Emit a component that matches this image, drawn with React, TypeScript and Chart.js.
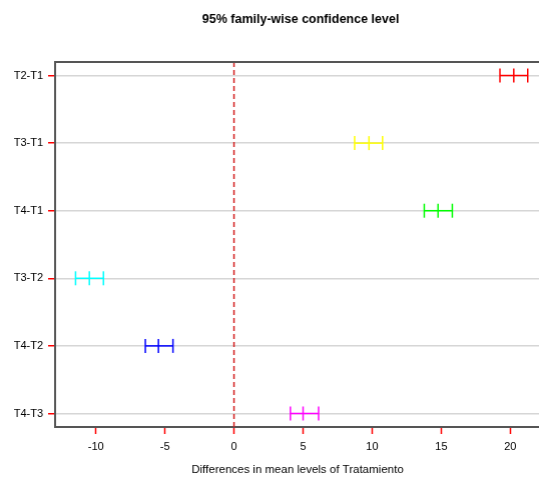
import { useEffect, useRef } from "react";
import { Chart, registerables } from "chart.js";

Chart.register(...registerables);

const comparisons = ["T2-T1", "T3-T1", "T4-T1", "T3-T2", "T4-T2", "T4-T3"];
const diffs = [20.25, 9.77, 14.77, -10.47, -5.47, 5.0];
const lowers = [19.25, 8.73, 13.77, -11.47, -6.42, 4.08];
const uppers = [21.26, 10.75, 15.8, -9.45, -4.42, 6.12];
const colors = ["#FF0000", "#FFFF00", "#00FF00", "#00FFFF", "#0000FF", "#FF00FF"];
const xTicks = [-10, -5, 0, 5, 10, 15, 20];
const xRange = [-12.95, 22.15];
const xPlotEnd = 22.6; // full extent of the original plot region (cropped at the right)
const yRange = [-0.2, 5.2];
const mainTitle = "95% family-wise confidence level";
const xTitle = "Differences in mean levels of Tratamiento";

const FAMILY = "'Liberation Sans', Arial, Helvetica, sans-serif";
const WHISKER = 7;
const WHISKER_W = 1.5;

const framePlugin = {
  id: "frameAndTitle",
  afterDraw(chart: any) {
    const { ctx, chartArea } = chart;
    const { left, right, top } = chartArea;
    const xs = chart.scales.x;
    const plotRight = xs.getPixelForValue(xPlotEnd);
    ctx.save();
    ctx.strokeStyle = "#555555";
    ctx.lineWidth = 2;
    ctx.beginPath();
    ctx.moveTo(left - 1, top);
    ctx.lineTo(right, top);
    ctx.stroke();
    ctx.font = `bold 12.5px ${FAMILY}`;
    ctx.fillStyle = "#000000";
    ctx.textAlign = "center";
    ctx.textBaseline = "middle";
    ctx.fillText(mainTitle, (left + plotRight) / 2, 20);
    ctx.restore();
  },
};

export default function App() {
  const canvasRef = useRef<HTMLCanvasElement | null>(null);

  useEffect(() => {
    if (!canvasRef.current) return;

    const intervalSets = comparisons.map((c, i) => ({
      label: c,
      data: [
        { x: lowers[i], y: i },
        { x: diffs[i], y: i },
        { x: uppers[i], y: i },
      ],
      showLine: true,
      borderColor: colors[i],
      borderWidth: 1.5,
      pointStyle: "line",
      pointRotation: 90,
      pointRadius: WHISKER,
      pointHoverRadius: WHISKER,
      pointBorderColor: colors[i],
      pointBorderWidth: WHISKER_W,
      clip: false,
    }));

    const zeroLine = {
      label: "zero",
      data: [
        { x: 0, y: yRange[0] },
        { x: 0, y: yRange[1] },
      ],
      showLine: true,
      borderColor: "#D42020",
      borderWidth: 1.5,
      borderDash: [5, 3],
      pointRadius: 0,
      pointHoverRadius: 0,
    };

    const chart = new Chart(canvasRef.current, {
      type: "scatter",
      data: { datasets: [zeroLine, ...intervalSets] as any },
      options: {
        animation: false,
        responsive: true,
        maintainAspectRatio: false,
        devicePixelRatio: 1,
        layout: { padding: { top: 62, left: 0, right: 0, bottom: 0 } },
        plugins: {
          legend: { display: false },
          tooltip: { enabled: false },
          title: { display: false },
        },
        scales: {
          x: {
            type: "linear",
            min: xRange[0],
            max: xRange[1],
            afterBuildTicks: (s: any) => {
              s.ticks = xTicks.map((v) => ({ value: v }));
            },
            afterFit: (s: any) => {
              s.height = 50;
            },
            grid: {
              drawOnChartArea: false,
              drawTicks: true,
              tickLength: 7,
              tickColor: "#FF0000",
              tickWidth: 1.5,
            },
            border: { display: true, color: "#555555", width: 2 },
            ticks: {
              color: "#000000",
              font: { family: FAMILY, size: 11 },
              padding: 6,
              maxRotation: 0,
              autoSkip: false,
            },
            title: {
              display: true,
              text: xTitle,
              color: "#000000",
              font: { family: FAMILY, size: 11.5 },
              padding: { top: 0, bottom: 0 },
            },
          },
          y: {
            type: "linear",
            reverse: true,
            min: yRange[0],
            max: yRange[1],
            afterBuildTicks: (s: any) => {
              s.ticks = comparisons.map((_, i) => ({ value: i }));
            },
            afterFit: (s: any) => {
              s.width = 55;
            },
            grid: {
              color: "#D6D6D6",
              lineWidth: 1.5,
              drawTicks: true,
              tickLength: 7,
              tickColor: "#FF0000",
              tickWidth: 1.5,
            },
            border: { display: true, color: "#555555", width: 2 },
            ticks: {
              color: "#000000",
              font: { family: FAMILY, size: 11 },
              padding: 5,
              autoSkip: false,
              callback: (v: any) => comparisons[Math.round(Number(v))] ?? "",
            },
          },
        },
      },
      plugins: [framePlugin],
    });

    return () => chart.destroy();
  }, []);

  // The chart library reserves (whisker radius + border) on the right for point overflow;
  // the canvas is widened by that amount so the plot region reaches the window edge, as in the original.
  const overflow = WHISKER + WHISKER_W;

  return (
    <div
      style={{
        position: "fixed",
        left: 0,
        top: 0,
        width: 539,
        height: 477,
        overflow: "hidden",
        background: "#ffffff",
      }}
    >
      <div style={{ position: "relative", width: 539 + overflow, height: 477 }}>
        <canvas ref={canvasRef} />
      </div>
    </div>
  );
}
